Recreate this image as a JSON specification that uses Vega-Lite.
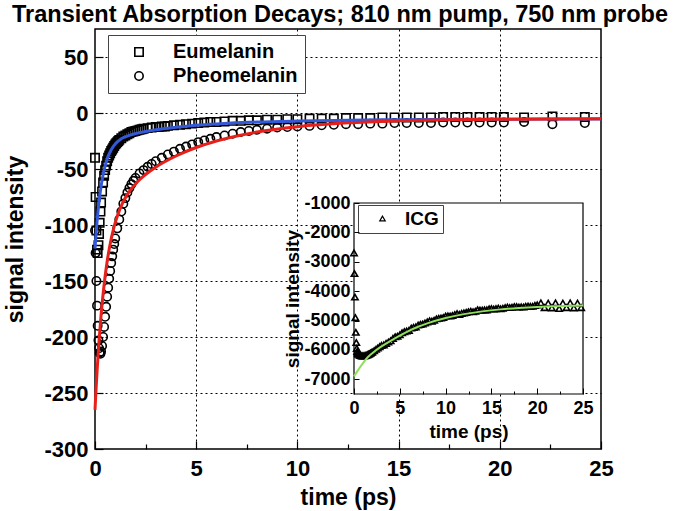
{
  "$schema": "https://vega.github.io/schema/vega-lite/v6.json",
  "width": 506,
  "height": 420,
  "autosize": {"type": "none"},
  "padding": {"left": 95, "top": 29, "right": 79, "bottom": 62},
  "background": "#ffffff",
  "config": {
    "font": "Liberation Sans",
    "view": {"stroke": "#000000", "strokeWidth": 1.5}
  },
  "title": {
    "text": "Transient Absorption Decays; 810 nm pump, 750 nm probe",
    "fontSize": 23.5,
    "fontWeight": "bold",
    "color": "#000000",
    "anchor": "middle",
    "dx": -8,
    "offset": 3
  },
  "datasets": {
    "points": [
      {"t": 0, "signal": -40, "sample": "Eumelanin"},
      {"t": 0.03, "signal": -75, "sample": "Eumelanin"},
      {"t": 0.07, "signal": -105, "sample": "Eumelanin"},
      {"t": 0.1, "signal": -122, "sample": "Eumelanin"},
      {"t": 0.13, "signal": -125, "sample": "Eumelanin"},
      {"t": 0.17, "signal": -118, "sample": "Eumelanin"},
      {"t": 0.2, "signal": -108, "sample": "Eumelanin"},
      {"t": 0.23, "signal": -98, "sample": "Eumelanin"},
      {"t": 0.27, "signal": -88, "sample": "Eumelanin"},
      {"t": 0.3, "signal": -80, "sample": "Eumelanin"},
      {"t": 0.35, "signal": -70, "sample": "Eumelanin"},
      {"t": 0.4, "signal": -62, "sample": "Eumelanin"},
      {"t": 0.45, "signal": -56, "sample": "Eumelanin"},
      {"t": 0.5, "signal": -51, "sample": "Eumelanin"},
      {"t": 0.55, "signal": -47, "sample": "Eumelanin"},
      {"t": 0.6, "signal": -43, "sample": "Eumelanin"},
      {"t": 0.65, "signal": -40, "sample": "Eumelanin"},
      {"t": 0.7, "signal": -38, "sample": "Eumelanin"},
      {"t": 0.75, "signal": -36, "sample": "Eumelanin"},
      {"t": 0.8, "signal": -34, "sample": "Eumelanin"},
      {"t": 0.85, "signal": -32.5, "sample": "Eumelanin"},
      {"t": 0.9, "signal": -31, "sample": "Eumelanin"},
      {"t": 0.95, "signal": -29.5, "sample": "Eumelanin"},
      {"t": 1.0, "signal": -28, "sample": "Eumelanin"},
      {"t": 1.05, "signal": -27, "sample": "Eumelanin"},
      {"t": 1.1, "signal": -26, "sample": "Eumelanin"},
      {"t": 1.15, "signal": -25, "sample": "Eumelanin"},
      {"t": 1.2, "signal": -24, "sample": "Eumelanin"},
      {"t": 1.3, "signal": -22.5, "sample": "Eumelanin"},
      {"t": 1.4, "signal": -21, "sample": "Eumelanin"},
      {"t": 1.5, "signal": -20, "sample": "Eumelanin"},
      {"t": 1.6, "signal": -19, "sample": "Eumelanin"},
      {"t": 1.7, "signal": -18, "sample": "Eumelanin"},
      {"t": 1.8, "signal": -17, "sample": "Eumelanin"},
      {"t": 1.9, "signal": -16.5, "sample": "Eumelanin"},
      {"t": 2.0, "signal": -16, "sample": "Eumelanin"},
      {"t": 2.1, "signal": -15.5, "sample": "Eumelanin"},
      {"t": 2.2, "signal": -15, "sample": "Eumelanin"},
      {"t": 2.3, "signal": -14.5, "sample": "Eumelanin"},
      {"t": 2.4, "signal": -14, "sample": "Eumelanin"},
      {"t": 2.6, "signal": -13.5, "sample": "Eumelanin"},
      {"t": 2.8, "signal": -13, "sample": "Eumelanin"},
      {"t": 3.0, "signal": -12.5, "sample": "Eumelanin"},
      {"t": 3.15, "signal": -12.5, "sample": "Eumelanin"},
      {"t": 3.3, "signal": -12, "sample": "Eumelanin"},
      {"t": 3.45, "signal": -12, "sample": "Eumelanin"},
      {"t": 3.6, "signal": -11.5, "sample": "Eumelanin"},
      {"t": 3.9, "signal": -11, "sample": "Eumelanin"},
      {"t": 4.2, "signal": -10.5, "sample": "Eumelanin"},
      {"t": 4.5, "signal": -10, "sample": "Eumelanin"},
      {"t": 4.8, "signal": -9.5, "sample": "Eumelanin"},
      {"t": 5.1, "signal": -9, "sample": "Eumelanin"},
      {"t": 5.4, "signal": -8.5, "sample": "Eumelanin"},
      {"t": 5.7, "signal": -8, "sample": "Eumelanin"},
      {"t": 6.0, "signal": -8, "sample": "Eumelanin"},
      {"t": 6.4, "signal": -7.5, "sample": "Eumelanin"},
      {"t": 6.8, "signal": -7, "sample": "Eumelanin"},
      {"t": 7.2, "signal": -7, "sample": "Eumelanin"},
      {"t": 7.6, "signal": -6.5, "sample": "Eumelanin"},
      {"t": 8.0, "signal": -6.5, "sample": "Eumelanin"},
      {"t": 8.5, "signal": -6, "sample": "Eumelanin"},
      {"t": 9.0, "signal": -6, "sample": "Eumelanin"},
      {"t": 9.5, "signal": -5.5, "sample": "Eumelanin"},
      {"t": 10.0, "signal": -5.5, "sample": "Eumelanin"},
      {"t": 10.6, "signal": -5, "sample": "Eumelanin"},
      {"t": 11.2, "signal": -5, "sample": "Eumelanin"},
      {"t": 11.8, "signal": -5, "sample": "Eumelanin"},
      {"t": 12.4, "signal": -4.5, "sample": "Eumelanin"},
      {"t": 13.0, "signal": -4.5, "sample": "Eumelanin"},
      {"t": 13.6, "signal": -4.5, "sample": "Eumelanin"},
      {"t": 14.2, "signal": -4, "sample": "Eumelanin"},
      {"t": 14.8, "signal": -4, "sample": "Eumelanin"},
      {"t": 15.4, "signal": -4, "sample": "Eumelanin"},
      {"t": 16.0, "signal": -4, "sample": "Eumelanin"},
      {"t": 16.6, "signal": -4, "sample": "Eumelanin"},
      {"t": 17.2, "signal": -3.5, "sample": "Eumelanin"},
      {"t": 17.8, "signal": -3.5, "sample": "Eumelanin"},
      {"t": 18.4, "signal": -3.5, "sample": "Eumelanin"},
      {"t": 19.0, "signal": -3.5, "sample": "Eumelanin"},
      {"t": 19.6, "signal": -3.5, "sample": "Eumelanin"},
      {"t": 20.2, "signal": -3.5, "sample": "Eumelanin"},
      {"t": 21.2, "signal": -4, "sample": "Eumelanin"},
      {"t": 22.6, "signal": -3, "sample": "Eumelanin"},
      {"t": 24.2, "signal": -3.5, "sample": "Eumelanin"},
      {"t": 0, "signal": -105, "sample": "Pheomelanin"},
      {"t": 0.03, "signal": -125, "sample": "Pheomelanin"},
      {"t": 0.07, "signal": -150, "sample": "Pheomelanin"},
      {"t": 0.1, "signal": -172, "sample": "Pheomelanin"},
      {"t": 0.13, "signal": -190, "sample": "Pheomelanin"},
      {"t": 0.17, "signal": -203, "sample": "Pheomelanin"},
      {"t": 0.2, "signal": -210, "sample": "Pheomelanin"},
      {"t": 0.23, "signal": -214, "sample": "Pheomelanin"},
      {"t": 0.27, "signal": -215, "sample": "Pheomelanin"},
      {"t": 0.3, "signal": -213, "sample": "Pheomelanin"},
      {"t": 0.35, "signal": -208, "sample": "Pheomelanin"},
      {"t": 0.4, "signal": -200, "sample": "Pheomelanin"},
      {"t": 0.45, "signal": -191, "sample": "Pheomelanin"},
      {"t": 0.5, "signal": -182, "sample": "Pheomelanin"},
      {"t": 0.55, "signal": -173, "sample": "Pheomelanin"},
      {"t": 0.6, "signal": -164, "sample": "Pheomelanin"},
      {"t": 0.65, "signal": -156, "sample": "Pheomelanin"},
      {"t": 0.7, "signal": -148, "sample": "Pheomelanin"},
      {"t": 0.75, "signal": -141, "sample": "Pheomelanin"},
      {"t": 0.8, "signal": -134, "sample": "Pheomelanin"},
      {"t": 0.85, "signal": -128, "sample": "Pheomelanin"},
      {"t": 0.9, "signal": -122, "sample": "Pheomelanin"},
      {"t": 0.95, "signal": -117, "sample": "Pheomelanin"},
      {"t": 1.0, "signal": -112, "sample": "Pheomelanin"},
      {"t": 1.1, "signal": -103, "sample": "Pheomelanin"},
      {"t": 1.2, "signal": -95, "sample": "Pheomelanin"},
      {"t": 1.3, "signal": -88, "sample": "Pheomelanin"},
      {"t": 1.4, "signal": -81, "sample": "Pheomelanin"},
      {"t": 1.5, "signal": -76, "sample": "Pheomelanin"},
      {"t": 1.6, "signal": -71, "sample": "Pheomelanin"},
      {"t": 1.7, "signal": -67, "sample": "Pheomelanin"},
      {"t": 1.8, "signal": -63.5, "sample": "Pheomelanin"},
      {"t": 1.9, "signal": -60.5, "sample": "Pheomelanin"},
      {"t": 2.0, "signal": -58, "sample": "Pheomelanin"},
      {"t": 2.2, "signal": -54, "sample": "Pheomelanin"},
      {"t": 2.4, "signal": -51, "sample": "Pheomelanin"},
      {"t": 2.6, "signal": -48, "sample": "Pheomelanin"},
      {"t": 2.8, "signal": -45.5, "sample": "Pheomelanin"},
      {"t": 3.0, "signal": -43, "sample": "Pheomelanin"},
      {"t": 3.3, "signal": -40, "sample": "Pheomelanin"},
      {"t": 3.6, "signal": -37, "sample": "Pheomelanin"},
      {"t": 3.9, "signal": -34.5, "sample": "Pheomelanin"},
      {"t": 4.2, "signal": -32, "sample": "Pheomelanin"},
      {"t": 4.5, "signal": -30, "sample": "Pheomelanin"},
      {"t": 4.8, "signal": -28, "sample": "Pheomelanin"},
      {"t": 5.1, "signal": -26, "sample": "Pheomelanin"},
      {"t": 5.4, "signal": -24.5, "sample": "Pheomelanin"},
      {"t": 5.7, "signal": -23, "sample": "Pheomelanin"},
      {"t": 6.0, "signal": -21.5, "sample": "Pheomelanin"},
      {"t": 6.4, "signal": -20, "sample": "Pheomelanin"},
      {"t": 6.8, "signal": -18.5, "sample": "Pheomelanin"},
      {"t": 7.2, "signal": -17, "sample": "Pheomelanin"},
      {"t": 7.6, "signal": -16, "sample": "Pheomelanin"},
      {"t": 8.0, "signal": -15, "sample": "Pheomelanin"},
      {"t": 8.5, "signal": -14, "sample": "Pheomelanin"},
      {"t": 9.0, "signal": -13, "sample": "Pheomelanin"},
      {"t": 9.5, "signal": -12.5, "sample": "Pheomelanin"},
      {"t": 10.0, "signal": -12, "sample": "Pheomelanin"},
      {"t": 10.6, "signal": -11.5, "sample": "Pheomelanin"},
      {"t": 11.2, "signal": -11, "sample": "Pheomelanin"},
      {"t": 11.8, "signal": -10.5, "sample": "Pheomelanin"},
      {"t": 12.4, "signal": -10, "sample": "Pheomelanin"},
      {"t": 13.0, "signal": -10, "sample": "Pheomelanin"},
      {"t": 13.6, "signal": -9.5, "sample": "Pheomelanin"},
      {"t": 14.2, "signal": -9.5, "sample": "Pheomelanin"},
      {"t": 14.8, "signal": -9, "sample": "Pheomelanin"},
      {"t": 15.4, "signal": -9, "sample": "Pheomelanin"},
      {"t": 16.0, "signal": -9, "sample": "Pheomelanin"},
      {"t": 16.6, "signal": -9, "sample": "Pheomelanin"},
      {"t": 17.2, "signal": -8.5, "sample": "Pheomelanin"},
      {"t": 17.8, "signal": -8.5, "sample": "Pheomelanin"},
      {"t": 18.4, "signal": -8.5, "sample": "Pheomelanin"},
      {"t": 19.0, "signal": -8.5, "sample": "Pheomelanin"},
      {"t": 19.6, "signal": -8.5, "sample": "Pheomelanin"},
      {"t": 20.2, "signal": -8.5, "sample": "Pheomelanin"},
      {"t": 21.2, "signal": -8, "sample": "Pheomelanin"},
      {"t": 22.6, "signal": -10, "sample": "Pheomelanin"},
      {"t": 24.2, "signal": -9, "sample": "Pheomelanin"}
    ],
    "fitE": [
      {"t": 0, "signal": -121}, {"t": 0.05, "signal": -108.3}, {"t": 0.1, "signal": -97.2},
      {"t": 0.15, "signal": -87.5}, {"t": 0.2, "signal": -79.2}, {"t": 0.3, "signal": -65.5},
      {"t": 0.4, "signal": -55.2}, {"t": 0.5, "signal": -47.2}, {"t": 0.6, "signal": -41.0},
      {"t": 0.8, "signal": -32.8}, {"t": 1.0, "signal": -27.6}, {"t": 1.25, "signal": -23.6},
      {"t": 1.5, "signal": -21.3}, {"t": 2, "signal": -18.4}, {"t": 2.5, "signal": -16.5},
      {"t": 3, "signal": -15.0}, {"t": 4, "signal": -12.7}, {"t": 5, "signal": -11.0},
      {"t": 6, "signal": -9.8}, {"t": 8, "signal": -8.1}, {"t": 10, "signal": -7.2},
      {"t": 12.5, "signal": -6.5}, {"t": 15, "signal": -6.0}, {"t": 20, "signal": -5.6},
      {"t": 25, "signal": -5.3}
    ],
    "fitP": [
      {"t": 0, "signal": -265}, {"t": 0.05, "signal": -247.3}, {"t": 0.1, "signal": -231.3},
      {"t": 0.15, "signal": -216.7}, {"t": 0.2, "signal": -203.5}, {"t": 0.3, "signal": -180.4},
      {"t": 0.4, "signal": -161.6}, {"t": 0.5, "signal": -145.8}, {"t": 0.6, "signal": -132.6},
      {"t": 0.8, "signal": -112.4}, {"t": 1.0, "signal": -97.8}, {"t": 1.25, "signal": -84.9},
      {"t": 1.5, "signal": -75.6}, {"t": 2, "signal": -63.3}, {"t": 2.5, "signal": -54.9},
      {"t": 3, "signal": -48.4}, {"t": 4, "signal": -38.4}, {"t": 5, "signal": -30.8},
      {"t": 6, "signal": -25.0}, {"t": 8, "signal": -17.0}, {"t": 10, "signal": -12.2},
      {"t": 12.5, "signal": -8.8}, {"t": 15, "signal": -7.0}, {"t": 20, "signal": -5.55},
      {"t": 25, "signal": -5.15}
    ],
    "icg": [
      {"t": 0, "signal": -2700, "sample": "ICG"}, {"t": 0.05, "signal": -3400, "sample": "ICG"},
      {"t": 0.1, "signal": -4200, "sample": "ICG"}, {"t": 0.15, "signal": -4900, "sample": "ICG"},
      {"t": 0.2, "signal": -5400, "sample": "ICG"}, {"t": 0.25, "signal": -5750, "sample": "ICG"},
      {"t": 0.3, "signal": -5950, "sample": "ICG"}, {"t": 0.35, "signal": -6050, "sample": "ICG"},
      {"t": 0.4, "signal": -6100, "sample": "ICG"}, {"t": 0.45, "signal": -6130, "sample": "ICG"},
      {"t": 0.5, "signal": -6150, "sample": "ICG"}, {"t": 0.6, "signal": -6175, "sample": "ICG"},
      {"t": 0.7, "signal": -6190, "sample": "ICG"}, {"t": 0.8, "signal": -6200, "sample": "ICG"},
      {"t": 0.9, "signal": -6205, "sample": "ICG"}, {"t": 1.0, "signal": -6205, "sample": "ICG"},
      {"t": 1.1, "signal": -6200, "sample": "ICG"}, {"t": 1.2, "signal": -6195, "sample": "ICG"},
      {"t": 1.3, "signal": -6185, "sample": "ICG"}, {"t": 1.4, "signal": -6175, "sample": "ICG"},
      {"t": 1.5, "signal": -6160, "sample": "ICG"}, {"t": 1.6, "signal": -6145, "sample": "ICG"},
      {"t": 1.7, "signal": -6130, "sample": "ICG"}, {"t": 1.8, "signal": -6110, "sample": "ICG"},
      {"t": 1.9, "signal": -6090, "sample": "ICG"}, {"t": 2.0, "signal": -6070, "sample": "ICG"},
      {"t": 2.2, "signal": -6025, "sample": "ICG"}, {"t": 2.4, "signal": -5980, "sample": "ICG"},
      {"t": 2.6, "signal": -5935, "sample": "ICG"}, {"t": 2.8, "signal": -5890, "sample": "ICG"},
      {"t": 3.0, "signal": -5845, "sample": "ICG"}, {"t": 3.25, "signal": -5830, "sample": "ICG"},
      {"t": 3.5, "signal": -5777, "sample": "ICG"}, {"t": 3.75, "signal": -5731, "sample": "ICG"},
      {"t": 4.0, "signal": -5688, "sample": "ICG"}, {"t": 4.25, "signal": -5607, "sample": "ICG"},
      {"t": 4.5, "signal": -5552, "sample": "ICG"}, {"t": 4.75, "signal": -5535, "sample": "ICG"},
      {"t": 5.0, "signal": -5485, "sample": "ICG"}, {"t": 5.25, "signal": -5416, "sample": "ICG"},
      {"t": 5.5, "signal": -5380, "sample": "ICG"}, {"t": 5.75, "signal": -5355, "sample": "ICG"},
      {"t": 6.0, "signal": -5336, "sample": "ICG"}, {"t": 6.25, "signal": -5255, "sample": "ICG"},
      {"t": 6.5, "signal": -5234, "sample": "ICG"}, {"t": 6.75, "signal": -5216, "sample": "ICG"},
      {"t": 7.0, "signal": -5153, "sample": "ICG"}, {"t": 7.25, "signal": -5132, "sample": "ICG"},
      {"t": 7.5, "signal": -5117, "sample": "ICG"}, {"t": 7.75, "signal": -5083, "sample": "ICG"},
      {"t": 8.0, "signal": -5046, "sample": "ICG"}, {"t": 8.25, "signal": -5009, "sample": "ICG"},
      {"t": 8.5, "signal": -5019, "sample": "ICG"}, {"t": 8.75, "signal": -4990, "sample": "ICG"},
      {"t": 9.0, "signal": -4942, "sample": "ICG"}, {"t": 9.25, "signal": -4924, "sample": "ICG"},
      {"t": 9.5, "signal": -4913, "sample": "ICG"}, {"t": 9.75, "signal": -4897, "sample": "ICG"},
      {"t": 10.0, "signal": -4848, "sample": "ICG"}, {"t": 10.25, "signal": -4839, "sample": "ICG"},
      {"t": 10.5, "signal": -4846, "sample": "ICG"}, {"t": 10.75, "signal": -4828, "sample": "ICG"},
      {"t": 11.0, "signal": -4797, "sample": "ICG"}, {"t": 11.25, "signal": -4766, "sample": "ICG"},
      {"t": 11.5, "signal": -4790, "sample": "ICG"}, {"t": 11.75, "signal": -4756, "sample": "ICG"},
      {"t": 12.0, "signal": -4742, "sample": "ICG"}, {"t": 12.25, "signal": -4723, "sample": "ICG"},
      {"t": 12.5, "signal": -4700, "sample": "ICG"}, {"t": 12.75, "signal": -4683, "sample": "ICG"},
      {"t": 13.0, "signal": -4701, "sample": "ICG"}, {"t": 13.25, "signal": -4684, "sample": "ICG"},
      {"t": 13.5, "signal": -4633, "sample": "ICG"}, {"t": 13.75, "signal": -4643, "sample": "ICG"},
      {"t": 14.0, "signal": -4643, "sample": "ICG"}, {"t": 14.25, "signal": -4638, "sample": "ICG"},
      {"t": 14.5, "signal": -4639, "sample": "ICG"}, {"t": 14.75, "signal": -4600, "sample": "ICG"},
      {"t": 15.0, "signal": -4596, "sample": "ICG"}, {"t": 15.25, "signal": -4608, "sample": "ICG"},
      {"t": 15.5, "signal": -4595, "sample": "ICG"}, {"t": 15.75, "signal": -4577, "sample": "ICG"},
      {"t": 16.0, "signal": -4600, "sample": "ICG"}, {"t": 16.25, "signal": -4583, "sample": "ICG"},
      {"t": 16.5, "signal": -4557, "sample": "ICG"}, {"t": 16.75, "signal": -4545, "sample": "ICG"},
      {"t": 17.0, "signal": -4559, "sample": "ICG"}, {"t": 17.25, "signal": -4548, "sample": "ICG"},
      {"t": 17.5, "signal": -4523, "sample": "ICG"}, {"t": 17.75, "signal": -4527, "sample": "ICG"},
      {"t": 18.0, "signal": -4542, "sample": "ICG"}, {"t": 18.25, "signal": -4532, "sample": "ICG"},
      {"t": 18.5, "signal": -4542, "sample": "ICG"}, {"t": 18.75, "signal": -4513, "sample": "ICG"},
      {"t": 19.0, "signal": -4508, "sample": "ICG"}, {"t": 19.25, "signal": -4519, "sample": "ICG"},
      {"t": 19.5, "signal": -4515, "sample": "ICG"}, {"t": 19.75, "signal": -4486, "sample": "ICG"},
      {"t": 20.0, "signal": -4467, "sample": "ICG"}, {"t": 20.4, "signal": -4400, "sample": "ICG"},
      {"t": 20.8, "signal": -4560, "sample": "ICG"}, {"t": 21.2, "signal": -4410, "sample": "ICG"},
      {"t": 21.6, "signal": -4570, "sample": "ICG"}, {"t": 22.0, "signal": -4400, "sample": "ICG"},
      {"t": 22.4, "signal": -4590, "sample": "ICG"}, {"t": 22.8, "signal": -4410, "sample": "ICG"},
      {"t": 23.2, "signal": -4560, "sample": "ICG"}, {"t": 23.6, "signal": -4400, "sample": "ICG"},
      {"t": 24.0, "signal": -4570, "sample": "ICG"}, {"t": 24.4, "signal": -4410, "sample": "ICG"},
      {"t": 24.8, "signal": -4560, "sample": "ICG"}
    ],
    "icgFit": [
      {"t": 0, "signal": -6900}, {"t": 0.5, "signal": -6660}, {"t": 1, "signal": -6440},
      {"t": 1.5, "signal": -6250}, {"t": 2, "signal": -6110}, {"t": 3, "signal": -5880},
      {"t": 4, "signal": -5690}, {"t": 5, "signal": -5515}, {"t": 6, "signal": -5351},
      {"t": 7, "signal": -5213}, {"t": 8, "signal": -5096}, {"t": 10, "signal": -4913},
      {"t": 12, "signal": -4782}, {"t": 14, "signal": -4688}, {"t": 16, "signal": -4620},
      {"t": 18, "signal": -4572}, {"t": 20, "signal": -4537}, {"t": 22, "signal": -4513},
      {"t": 25, "signal": -4488}
    ]
  },
  "layer": [
    {
      "layer": [
        {
          "data": {"name": "points"},
          "mark": {"type": "point", "filled": false, "color": "#000000", "opacity": 1, "size": 70, "strokeWidth": 1.6},
          "encoding": {
            "x": {
              "field": "t", "type": "quantitative",
              "scale": {"domain": [0, 25], "nice": false, "zero": false},
              "axis": {
                "orient": "bottom",
                "values": [0, 2.5, 5, 7.5, 10, 12.5, 15, 17.5, 20, 22.5, 25],
                "labelExpr": "datum.value % 5 === 0 ? '' + datum.value : ''",
                "grid": true, "gridColor": "#000000", "gridDash": [2, 3], "gridWidth": 1,
                "gridOpacity": {"condition": {"test": "datum.value % 5 !== 0 || datum.value === 0 || datum.value === 25", "value": 0}, "value": 1},
                "tickSize": {"condition": {"test": "datum.value % 5 === 0", "value": -8}, "value": -5},
                "tickColor": "#000000", "tickWidth": 1.2, "domain": false,
                "labelFontSize": 22, "labelFontWeight": "bold", "labelColor": "#000000", "labelPadding": 17,
                "labelFlush": false, "labelOverlap": false,
                "title": "time (ps)", "titleFontSize": 23, "titleFontWeight": "bold", "titleColor": "#000000", "titlePadding": 4
              }
            },
            "y": {
              "field": "signal", "type": "quantitative",
              "scale": {"domain": [-300, 75], "nice": false, "zero": false},
              "axis": {
                "orient": "left",
                "values": [-300, -275, -250, -225, -200, -175, -150, -125, -100, -75, -50, -25, 0, 25, 50, 75],
                "labelExpr": "datum.value % 50 === 0 ? '' + datum.value : ''",
                "grid": true, "gridColor": "#000000", "gridDash": [2, 3], "gridWidth": 1,
                "gridOpacity": {"condition": {"test": "datum.value % 50 !== 0 || datum.value === -300", "value": 0}, "value": 1},
                "tickSize": {"condition": {"test": "datum.value % 50 === 0", "value": -8}, "value": -5},
                "tickColor": "#000000", "tickWidth": 1.2, "domain": false,
                "labelFontSize": 22, "labelFontWeight": "bold", "labelColor": "#000000", "labelPadding": 15,
                "labelFlush": false, "labelOverlap": false,
                "title": "signal intensity", "titleFontSize": 23, "titleFontWeight": "bold", "titleColor": "#000000", "titlePadding": 16
              }
            },
            "shape": {
              "field": "sample", "type": "nominal",
              "scale": {"domain": ["Eumelanin", "Pheomelanin"], "range": ["square", "circle"]},
              "legend": {
                "orient": "none", "legendX": 13, "legendY": 6, "title": null,
                "strokeColor": "#444444", "fillColor": "#ffffff", "padding": 7,
                "symbolOffset": 14, "labelOffset": 24, "rowPadding": 4, "labelLimit": 400,
                "labelFontSize": 20, "labelFontWeight": "bold", "labelColor": "#000000",
                "symbolSize": 70, "symbolStrokeWidth": 1.6, "symbolStrokeColor": "#000000",
                "labelExpr": "datum.label + '\u00a0\u00a0\u00a0\u00a0\u00a0\u00a0'"
              }
            }
          }
        },
        {
          "data": {"name": "fitE"},
          "mark": {"type": "line", "color": "#3358d8", "strokeWidth": 3, "interpolate": "monotone"},
          "encoding": {
            "x": {"field": "t", "type": "quantitative"},
            "y": {"field": "signal", "type": "quantitative"}
          }
        },
        {
          "data": {"name": "fitP"},
          "mark": {"type": "line", "color": "#e8201c", "strokeWidth": 3, "interpolate": "monotone"},
          "encoding": {
            "x": {"field": "t", "type": "quantitative"},
            "y": {"field": "signal", "type": "quantitative"}
          }
        }
      ]
    },
    {
      "layer": [
        {
          "data": {"values": [{}]},
          "mark": {"type": "rect", "fill": "#ffffff", "stroke": "#000000", "strokeWidth": 1.2},
          "encoding": {
            "x": {
              "datum": 0, "type": "quantitative",
              "scale": {"domain": [0, 25], "range": [259, 488], "nice": false, "zero": false},
              "axis": {
                "orient": "bottom", "offset": -55, "zindex": 1,
                "values": [0, 2.5, 5, 7.5, 10, 12.5, 15, 17.5, 20, 22.5, 25],
                "labelExpr": "datum.value % 5 === 0 ? '' + datum.value : ''",
                "grid": false,
                "tickSize": {"condition": {"test": "datum.value % 5 === 0", "value": -6}, "value": -3},
                "tickColor": "#000000", "tickWidth": 1, "domain": false,
                "labelFontSize": 18, "labelFontWeight": "bold", "labelColor": "#000000", "labelPadding": 11,
                "labelFlush": false, "labelOverlap": false,
                "title": "time (ps)", "titleFontSize": 19, "titleFontWeight": "bold", "titleColor": "#000000", "titlePadding": 2
              }
            },
            "x2": {"datum": 25},
            "y": {
              "datum": -7500, "type": "quantitative",
              "scale": {"domain": [-7500, -1000], "range": [365, 174], "nice": false, "zero": false},
              "axis": {
                "orient": "left", "offset": -259, "zindex": 1,
                "values": [-7000, -6000, -5000, -4000, -3000, -2000, -1000],
                "labelExpr": "'' + datum.value",
                "grid": false,
                "tickSize": -5,
                "tickColor": "#000000", "tickWidth": 1, "domain": false,
                "labelFontSize": 18, "labelFontWeight": "bold", "labelColor": "#000000", "labelPadding": 9,
                "labelFlush": false, "labelOverlap": false, "labelBound": false,
                "title": "signal intensity", "titleFontSize": 19, "titleFontWeight": "bold", "titleColor": "#000000", "titlePadding": 1
              }
            },
            "y2": {"datum": -1000}
          }
        },
        {
          "data": {"name": "icg"},
          "mark": {"type": "point", "filled": false, "color": "#000000", "opacity": 1, "size": 40, "strokeWidth": 1.6},
          "encoding": {
            "x": {"field": "t", "type": "quantitative"},
            "y": {"field": "signal", "type": "quantitative"},
            "shape": {
              "field": "sample", "type": "nominal",
              "scale": {"domain": ["ICG"], "range": ["triangle-up"]},
              "legend": {
                "orient": "none", "legendX": 263, "legendY": 176, "title": null,
                "strokeColor": "#444444", "fillColor": "#ffffff", "padding": 4,
                "symbolOffset": 11, "labelOffset": 13,
                "labelFontSize": 19, "labelFontWeight": "bold", "labelColor": "#000000",
                "symbolSize": 30, "symbolStrokeWidth": 1.2, "symbolStrokeColor": "#000000"
              }
            }
          }
        },
        {
          "data": {"name": "icgFit"},
          "mark": {"type": "line", "color": "#8fe05a", "strokeWidth": 2, "interpolate": "monotone"},
          "encoding": {
            "x": {"field": "t", "type": "quantitative"},
            "y": {"field": "signal", "type": "quantitative"}
          }
        }
      ]
    }
  ],
  "resolve": {
    "scale": {"x": "independent", "y": "independent", "shape": "independent"},
    "axis": {"x": "independent", "y": "independent"},
    "legend": {"shape": "independent"}
  }
}
